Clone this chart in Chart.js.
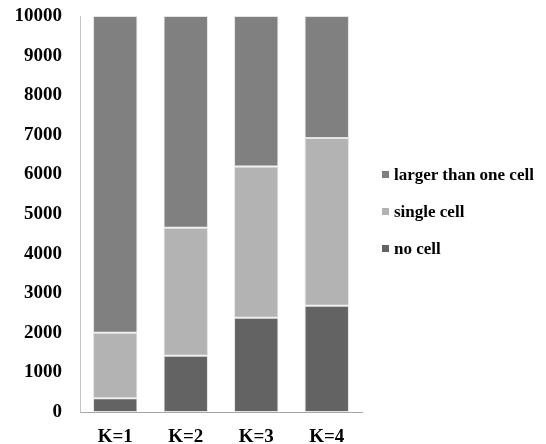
<!DOCTYPE html>
<html>
<head>
<meta charset="utf-8">
<script src="https://cdn.jsdelivr.net/npm/chart.js@4/dist/chart.umd.min.js"></script>
<style>
  html, body { margin: 0; padding: 0; background: #fff; }
  #wrap { position: relative; width: 546px; height: 444px; }
  #legend { position: absolute; left: 382px; top: 162px; font-family: "Liberation Serif", "Times New Roman", serif; font-weight: bold; font-size: 17px; color: #000; }
  #legend div { height: 37px; line-height: 26px; white-space: nowrap; }
  #legend span { display: inline-block; width: 7px; height: 7px; margin-right: 5px; vertical-align: 2px; }
</style>
</head>
<body>
<div id="wrap">
  <canvas id="chart" width="546" height="444"></canvas>
  <div id="legend"></div>
</div>
<script>
// data
const categories = ['K=1', 'K=2', 'K=3', 'K=4'];
const noCell = [350, 1420, 2380, 2680];
const singleCell = [1650, 3230, 3820, 4240];
const largerCell = [8000, 5350, 3800, 3080];
const yTicks = [0, 1000, 2000, 3000, 4000, 5000, 6000, 7000, 8000, 9000, 10000];

const serif = '"Liberation Serif", "Times New Roman", serif';

const datasets = [
  { label: 'no cell', data: noCell, backgroundColor: '#636363' },
  { label: 'single cell', data: singleCell, backgroundColor: '#b3b3b3' },
  { label: 'larger than one cell', data: largerCell, backgroundColor: '#808080' }
].map(d => Object.assign(d, {
  borderColor: '#e4e4e4',
  borderWidth: 1,
  borderSkipped: false,
  barPercentage: 0.63,
  categoryPercentage: 1
}));

const chart = new Chart(document.getElementById('chart').getContext('2d'), {
  type: 'bar',
  data: { labels: categories, datasets: datasets },
  options: {
    responsive: false,
    animation: false,
    layout: { padding: { top: 16, right: 184, bottom: 0, left: 0 } },
    plugins: { legend: { display: false }, tooltip: { enabled: false } },
    scales: {
      x: {
        stacked: true,
        grid: { display: false },
        border: { color: '#a6a6a6', width: 1 },
        ticks: { color: '#000', padding: 6, font: { family: serif, size: 19, weight: 'bold' } },
        afterFit: s => { s.height = 32; s.paddingLeft = 0; s.paddingRight = 0; }
      },
      y: {
        stacked: true,
        min: 0,
        max: 10000,
        afterBuildTicks: s => { s.ticks = yTicks.map(v => ({ value: v })); },
        grid: { display: false },
        border: { color: '#c4c4c4', width: 1 },
        ticks: {
          color: '#000', padding: 10,
          font: { family: serif, size: 19, weight: 'bold' },
          callback: v => String(v)
        },
        afterFit: s => { s.width = 80; s.paddingTop = 0; s.paddingBottom = 0; }
      }
    }
  }
});

// legend, top to bottom as in the stack
const legend = document.getElementById('legend');
datasets.slice().reverse().forEach(d => {
  const row = document.createElement('div');
  row.innerHTML = '<span style="background:' + d.backgroundColor + '"></span>' + d.label;
  legend.appendChild(row);
});
</script>
</body>
</html>
